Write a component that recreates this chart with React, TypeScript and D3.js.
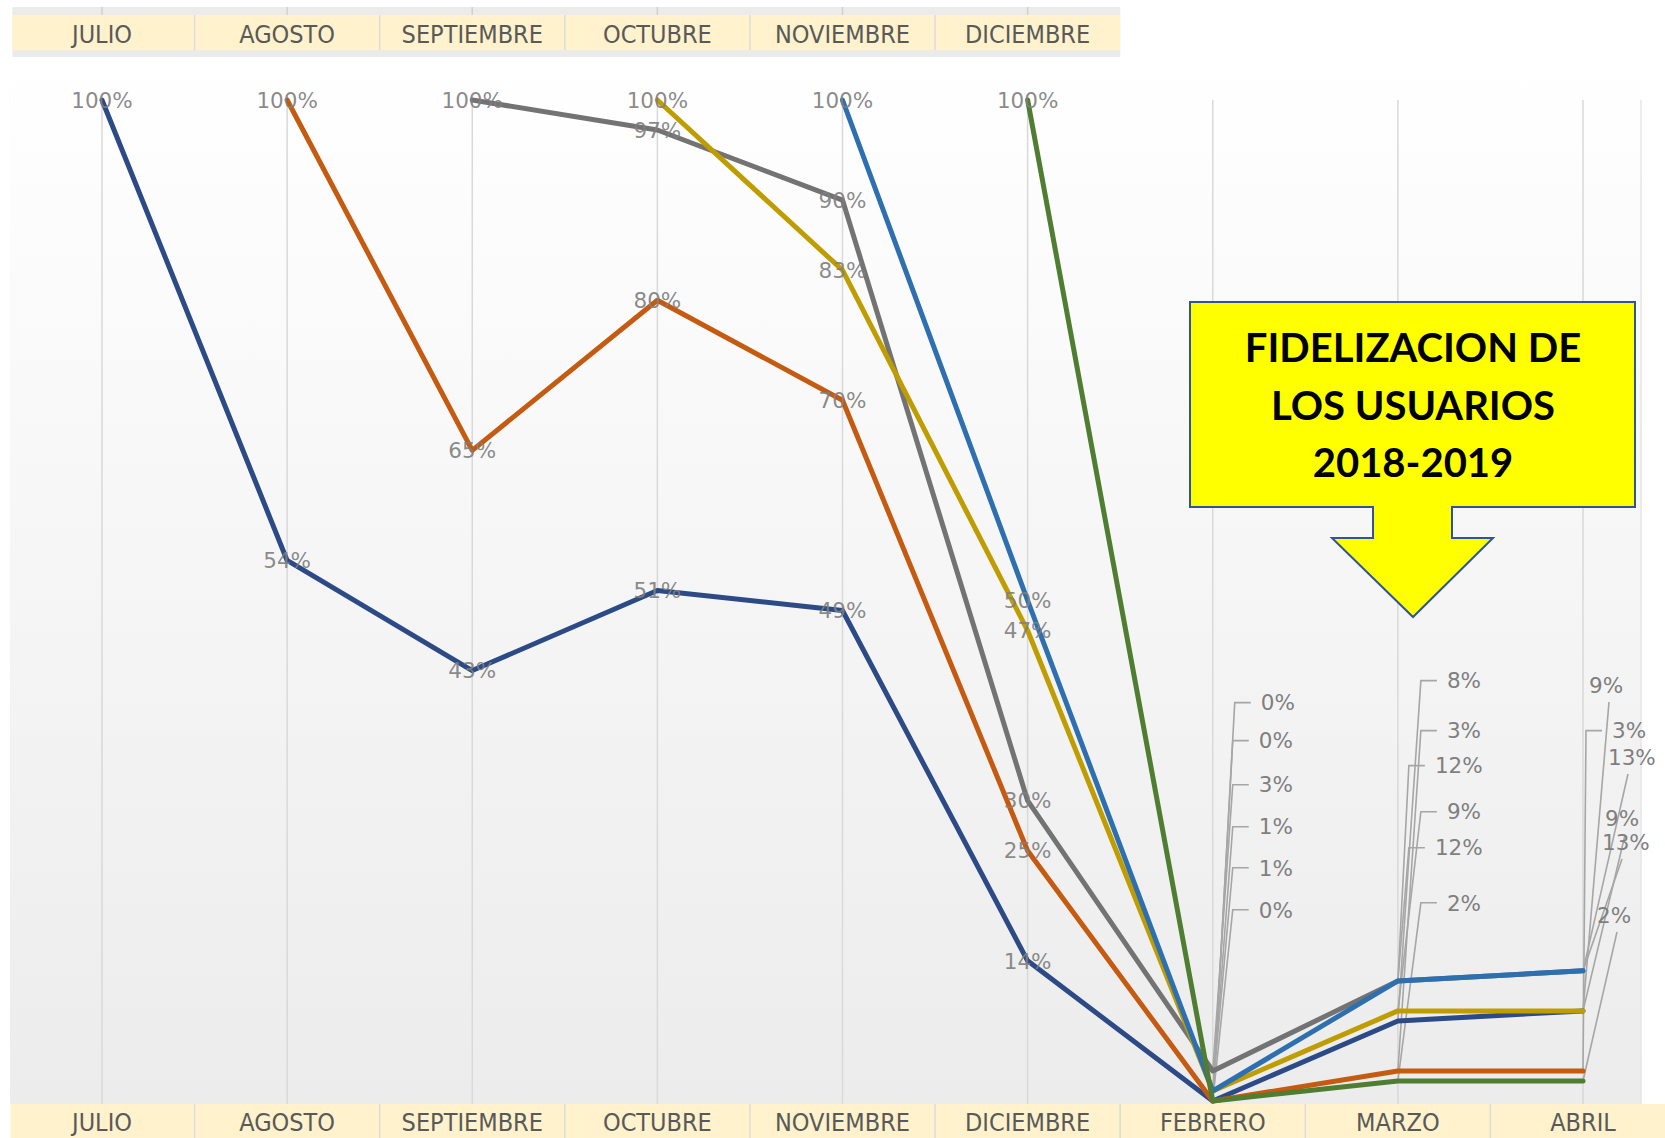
import React from "react";
import * as d3 from "d3";

// Categories (months) on the x axis
const months = ["JULIO", "AGOSTO", "SEPTIEMBRE", "OCTUBRE", "NOVIEMBRE", "DICIEMBRE", "FEBRERO", "MARZO", "ABRIL"];
// Cohort start months shown in the top band
const cohortMonths = ["JULIO", "AGOSTO", "SEPTIEMBRE", "OCTUBRE", "NOVIEMBRE", "DICIEMBRE"];

// Retention share per cohort (null = cohort not yet started)
const julio = [1, 0.54, 0.43, 0.51, 0.49, 0.14, 0, 0.08, 0.09];
const agosto = [null, 1, 0.65, 0.8, 0.7, 0.25, 0, 0.03, 0.03];
const septiembre = [null, null, 1, 0.97, 0.9, 0.3, 0.03, 0.12, 0.13];
const octubre = [null, null, null, 1, 0.83, 0.47, 0.01, 0.09, 0.09];
const noviembre = [null, null, null, null, 1, 0.5, 0.01, 0.12, 0.13];
const diciembre = [null, null, null, null, null, 1, 0, 0.02, 0.02];

const titleLines = ["FIDELIZACION DE", "LOS USUARIOS", "2018-2019"];

const seriesColors = ["#2c4a86", "#c55a11", "#737373", "#bf9d00", "#2e6fb0", "#4f7d31"];

const W = 1665;
const H = 1138;

// Placement of the labels that sit off their points (with leader lines),
// for the last three months: text offset from the point, label height in
// value units, and leader style.
const offsetLabelLayout: Record<number, { dx: number[]; level: number[]; style: string[] }> = {
  6: {
    dx: [48, 46, 46, 46, 46, 46],
    level: [0.398, 0.36, 0.316, 0.274, 0.233, 0.191],
    style: ["tick", "tick", "tick", "tick", "tick", "tick"],
  },
  7: {
    dx: [49, 49, 37, 49, 37, 49],
    level: [0.42, 0.37, 0.335, 0.289, 0.253, 0.198],
    style: ["tick", "tick", "tick", "tick", "tick", "tick"],
  },
  8: {
    dx: [6, 29, 25, 22, 19, 14],
    level: [0.4156, 0.37, 0.3437, 0.2827, 0.2587, 0.1858],
    style: ["under", "tick", "under", "under", "under", "under"],
  },
};

export default function App() {
  const series = [julio, agosto, septiembre, octubre, noviembre, diciembre];

  const x = d3.scalePoint<string>().domain(months).range([102, 1583]);
  const step = x.step();
  const y = d3.scaleLinear().domain([0, 1]).range([1101, 100]);
  const pct = d3.format(".0%");

  const line = d3
    .line<number | null>()
    .defined((d) => d != null)
    .x((_, i) => x(months[i]) as number)
    .y((d) => y(d as number));

  const labelFont = "'DejaVu Sans', sans-serif";
  const labelSize = 21.5;
  const bandFont = "'DejaVu Sans Condensed', 'DejaVu Sans', sans-serif";

  const topLeft = (x(cohortMonths[0]) as number) - step / 2;
  const topRight = (x(cohortMonths[cohortMonths.length - 1]) as number) + step / 2;
  const botLeft = (x(months[0]) as number) - step / 2;

  // Callout shape
  const cx0 = 1190, cx1 = 1635, cy0 = 302, cy1 = 507;
  const stemL = 1373, stemR = 1452, stemB = 538, headL = 1332, headR = 1493, tipX = 1413, tipY = 617;
  const calloutPath = `M${cx0},${cy0} L${cx1},${cy0} L${cx1},${cy1} L${stemR},${cy1} L${stemR},${stemB} L${headR},${stemB} L${tipX},${tipY} L${headL},${stemB} L${stemL},${stemB} L${stemL},${cy1} L${cx0},${cy1} Z`;

  return (
    <svg
      width={W}
      height={H}
      style={{ position: "absolute", left: 0, top: 0, background: "#ffffff" }}
    >
      <defs>
        <linearGradient id="plotBg" x1="0" y1="0" x2="0" y2="1">
          <stop offset="0" stopColor="#ffffff" />
          <stop offset="1" stopColor="#ececec" />
        </linearGradient>
      </defs>

      {/* plot area background */}
      <rect x={10} y={60} width={1631} height={1044} fill="url(#plotBg)" />
      <line x1={1641} x2={1641} y1={100} y2={1104} stroke="#e6e6e6" strokeWidth={1.5} />

      {/* vertical gridlines */}
      {months.map((m) => (
        <line
          key={"g" + m}
          x1={x(m)}
          x2={x(m)}
          y1={100}
          y2={1104}
          stroke="#d9d9d9"
          strokeWidth={1.5}
        />
      ))}

      {/* top category band */}
      <rect x={topLeft + 3} y={7} width={topRight - topLeft - 3} height={50} fill="#ebebeb" />
      {cohortMonths.map((m) => (
        <line key={"tt" + m} x1={x(m)} x2={x(m)} y1={7} y2={15} stroke="#d0d0d0" strokeWidth={1.5} />
      ))}
      <rect x={topLeft + 3} y={15} width={topRight - topLeft - 3} height={35} fill="#fff2cc" />
      {cohortMonths.slice(1).map((m) => (
        <line
          key={"td" + m}
          x1={(x(m) as number) - step / 2}
          x2={(x(m) as number) - step / 2}
          y1={15}
          y2={50}
          stroke="#dcdcdc"
          strokeWidth={1.5}
        />
      ))}
      {cohortMonths.map((m) => (
        <text
          key={"tl" + m}
          x={x(m)}
          y={34 + 9}
          textAnchor="middle"
          fontFamily={bandFont}
          fontSize={25}
          fill="#595959"
        >
          {m}
        </text>
      ))}

      {/* bottom category band */}
      <rect x={botLeft + 1} y={1104} width={W - botLeft} height={34} fill="#fff2cc" />
      {months.slice(1).map((m) => (
        <line
          key={"bd" + m}
          x1={(x(m) as number) - step / 2}
          x2={(x(m) as number) - step / 2}
          y1={1104}
          y2={1138}
          stroke="#dcdcdc"
          strokeWidth={1.5}
        />
      ))}
      {months.map((m) => (
        <text
          key={"bl" + m}
          x={x(m)}
          y={1122 + 9}
          textAnchor="middle"
          fontFamily={bandFont}
          fontSize={25}
          fill="#595959"
        >
          {m}
        </text>
      ))}

      {/* leader lines for offset labels */}
      {Object.keys(offsetLabelLayout).map((k) => {
        const mi = +k;
        const lay = offsetLabelLayout[mi];
        const px = x(months[mi]) as number;
        return series.map((s, si) => {
          const v = s[mi] as number;
          const py = y(v);
          const tx = px + lay.dx[si];
          const ly = y(lay.level[si]);
          const d =
            lay.style[si] === "tick"
              ? `M${px},${py} L${tx - 26},${ly} L${tx - 10},${ly}`
              : `M${px},${py} L${tx + 20},${ly + 17}`;
          return (
            <path
              key={`ld${mi}-${si}`}
              d={d}
              fill="none"
              stroke="#a6a6a6"
              strokeWidth={1.6}
            />
          );
        });
      })}

      {/* cohort lines */}
      {series.map((s, si) => (
        <path
          key={"s" + si}
          d={line(s) || ""}
          fill="none"
          stroke={seriesColors[si]}
          strokeWidth={5}
          strokeLinejoin="round"
          strokeLinecap="round"
        />
      ))}

      {/* labels centred on their points (first six months) */}
      {series.map((s, si) =>
        s.map((v, mi) =>
          v == null || mi >= 6 ? null : (
            <text
              key={`pl${si}-${mi}`}
              x={x(months[mi])}
              y={y(v) + labelSize * 0.36}
              textAnchor="middle"
              fontFamily={labelFont}
              fontSize={labelSize}
              fill="#7f7f7f"
              fillOpacity={0.92}
            >
              {pct(v)}
            </text>
          )
        )
      )}

      {/* offset labels (last three months) */}
      {Object.keys(offsetLabelLayout).map((k) => {
        const mi = +k;
        const lay = offsetLabelLayout[mi];
        const px = x(months[mi]) as number;
        return series.map((s, si) => (
          <text
            key={`ol${mi}-${si}`}
            x={px + lay.dx[si]}
            y={y(lay.level[si]) + labelSize * 0.36}
            textAnchor="start"
            fontFamily={labelFont}
            fontSize={labelSize}
            fill="#7f7f7f"
          >
            {pct(s[mi] as number)}
          </text>
        ));
      })}

      {/* title callout */}
      <path d={calloutPath} fill="#ffff00" stroke="#2f5597" strokeWidth={2} strokeLinejoin="miter" />
      {titleLines.map((t, i) => (
        <text
          key={"t" + i}
          x={tipX}
          y={348 + i * 57.5 + 14}
          textAnchor="middle"
          fontFamily="Lato, 'Open Sans', sans-serif"
          fontWeight={700}
          fontSize={40}
          fill="#000000"
        >
          {t}
        </text>
      ))}
    </svg>
  );
}
